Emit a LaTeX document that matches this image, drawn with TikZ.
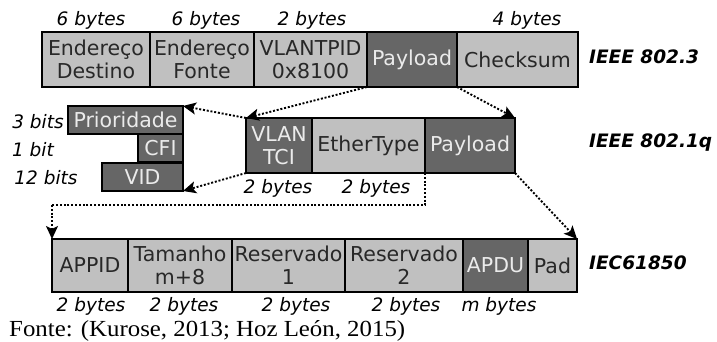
\documentclass[tikz,border=0pt]{standalone}
\usepackage{fontspec}
\setmainfont{DejaVu Sans}
\newfontfamily\capfont[FakeStretch=1.08]{Liberation Serif}
\usetikzlibrary{arrows.meta}

\definecolor{boxlight}{RGB}{192,192,192}
\definecolor{boxdark}{RGB}{102,102,102}
\definecolor{txtdark}{RGB}{40,40,40}
\definecolor{txtlight}{RGB}{235,235,235}

\tikzset{
  field/.style={draw=black, line width=1.8pt, inner sep=0pt, outer sep=0pt,
    anchor=north west, align=center, font=\fontsize{20.5}{23}\selectfont},
  lightfield/.style={field, fill=boxlight, text=txtdark},
  darkfield/.style={field, fill=boxdark, text=txtlight},
  sizelbl/.style={font=\fontsize{18.5}{20}\selectfont\itshape, text=black, inner sep=0pt},
  stdlbl/.style={font=\fontsize{18.5}{20}\selectfont\bfseries\itshape, anchor=west, inner sep=0pt},
  link/.style={line width=1.9pt, dash pattern=on 2pt off 1.8pt,
    -{Stealth[length=13pt,width=12pt,inset=3pt]}},
  plainlink/.style={line width=1.9pt, dash pattern=on 2pt off 1.8pt},
}

\begin{document}
\begin{tikzpicture}[x=1pt,y=-1pt]
\useasboundingbox (0,0) rectangle (717,342);

% ---- IEEE 802.3 frame ----
\node[lightfield, minimum width=108pt, minimum height=55pt] (ed) at (42,32) {Endereço\\Destino};
\node[lightfield, minimum width=104pt, minimum height=55pt] (ef) at (150,32) {Endereço\\Fonte};
\node[lightfield, minimum width=113pt, minimum height=55pt] (tp) at (254,32) {VLANTPID\\0x8100};
\node[darkfield,  minimum width=90pt,  minimum height=55pt] (pl1) at (367,32) {Payload};
\node[lightfield, minimum width=121pt, minimum height=55pt] (ck) at (457,32) {Checksum};

\node[sizelbl] (s1) at (91,20) {6 bytes};
\node[sizelbl] (s2) at (206,20) {6 bytes};
\node[sizelbl] (s3) at (312,20) {2 bytes};
\node[sizelbl] (s4) at (527,20) {4 bytes};
\node[stdlbl] (std1) at (589,57) {IEEE 802.3};

% ---- IEEE 802.1q tag ----
\node[darkfield,  minimum width=66pt,  minimum height=55pt] (tci) at (246,118) {VLAN\\TCI};
\node[lightfield, minimum width=113pt, minimum height=55pt] (et) at (312,118) {EtherType};
\node[darkfield,  minimum width=90pt,  minimum height=55pt] (pl2) at (425,118) {Payload};

\node[sizelbl] (s5) at (278,188) {2 bytes};
\node[sizelbl] (s6) at (376,188) {2 bytes};
\node[stdlbl] (std2) at (589,143) {IEEE 802.1q};

% ---- TCI sub-fields ----
\node[darkfield, minimum width=115pt, minimum height=28pt] (pri) at (68,106) {Prioridade};
\node[darkfield, minimum width=45pt,  minimum height=28pt] (cfi) at (138,134) {CFI};
\node[darkfield, minimum width=81pt,  minimum height=28pt] (vid) at (102,163) {VID};

\node[sizelbl] (b1) at (38,122) {3 bits};
\node[sizelbl] (b2) at (33,150) {1 bit};
\node[sizelbl] (b3) at (46,178) {12 bits};

% ---- IEC 61850 frame ----
\node[lightfield, minimum width=76pt,  minimum height=53pt] (ap) at (52,239) {APPID};
\node[lightfield, minimum width=104pt, minimum height=53pt] (tm) at (128,239) {Tamanho\\m+8};
\node[lightfield, minimum width=113pt, minimum height=53pt] (r1) at (232,239) {Reservado\\1};
\node[lightfield, minimum width=118pt, minimum height=53pt] (r2) at (345,239) {Reservado\\2};
\node[darkfield,  minimum width=65pt,  minimum height=53pt] (apdu) at (463,239) {APDU};
\node[lightfield, minimum width=49pt,  minimum height=53pt] (pad) at (528,239) {Pad};

\node[sizelbl] (s7) at (91,306) {2 bytes};
\node[sizelbl] (s8) at (184,306) {2 bytes};
\node[sizelbl] (s9) at (296,306) {2 bytes};
\node[sizelbl] (s10) at (406,306) {2 bytes};
\node[sizelbl] (s11) at (499,306) {m bytes};
\node[stdlbl] (std3) at (589,263) {IEC61850};

% ---- expansion links ----
\draw[link] (pl1.south west) -- (tci.north west);
\draw[link] (pl1.south east) -- (pl2.north east);
\draw[link] (tci.north west) -- (pri.north east);
\draw[link] (tci.south west) -- (vid.south east);
\draw[link] (pl2.south east) -- (pad.north east);
\coordinate (d1) at (425,205);
\coordinate (d2) at (52,205);
\draw[plainlink] (pl2.south west) -- (d1) -- (d2);
\draw[link] (d2) -- (ap.north west);

% ---- source line ----
\node[anchor=base west, inner sep=0pt, font=\capfont\fontsize{23}{26}\selectfont] (src) at (9,336)
  {Fonte: (Kurose, 2013; Hoz León, 2015)};
\end{tikzpicture}
\end{document}
